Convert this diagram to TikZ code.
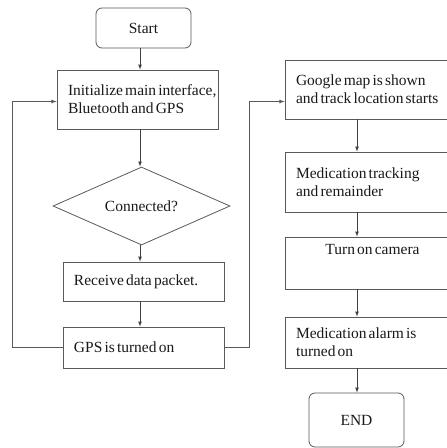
\documentclass[tikz,border=0pt]{standalone}
\usepackage{fontspec}
\setmainfont[WordSpace=0.55]{Liberation Serif}
\usetikzlibrary{positioning,shapes,arrows}

\begin{document}
\begin{tikzpicture}[x=1pt,y=-1pt, >=latex,
    txt/.style={font=\fontsize{15.5}{18}\selectfont, text=black!90},
    block/.style={txt, draw=black!65, line width=0.8pt, text width=139pt, inner xsep=11pt, align=flush left},
    rblock/.style={block, text width=153pt},
    term/.style={txt, draw=black!65, line width=0.8pt, rounded corners=6pt, minimum width=95pt, align=center},
    decision/.style={txt, draw=black!65, line width=0.8pt, diamond, aspect=2.3, inner sep=0pt, minimum width=177pt, minimum height=78pt},
    arrow/.style={->, draw=black!75, line width=0.7pt},
    loop/.style={->, draw=black!65, line width=0.8pt}]
    \useasboundingbox (0,0) rectangle (447,448);
    \clip (0,0) rectangle (447,448);

    % Left column
    \node[term, minimum height=40pt] (start) at (143.5,28) {Start};
    \node[block, minimum height=59pt] (init) at (137.5,99.5) {\mbox{Initialize main interface,}\\Bluetooth and GPS};
    \node[decision] (conn) at (141.5,206) {Connected?};
    \node[block, minimum height=39pt] (recv) at (143.5,281.5) {Receive data packet.};
    \node[block, minimum height=41pt] (gps) at (143.5,347.5) {GPS is turned on};

    % Right column
    \node[rblock, minimum height=59pt] (map) at (372.5,89.5) {Google map is shown\\and track location starts};
    \node[rblock, minimum height=60pt] (track) at (372.5,182) {Medication tracking\\and remainder};
    \node[rblock, minimum height=52pt, label={[txt, label distance=-22pt]north:Turn on camera}] (cam) at (372.5,263) {};
    \node[rblock, minimum height=51pt] (alarm) at (372.5,342.5) {Medication alarm is\\turned on};
    \node[term, minimum height=54pt] (end) at (356.5,420) {END};

    % Arrow columns
    \coordinate (cx) at (140,0);
    \coordinate (rx) at (357,0);
    \coordinate (lx) at (12,0);
    \coordinate (mx) at (249,0);

    % Flow
    \draw[arrow] (start.south -| cx) -- (init.north -| cx);
    \draw[arrow] (init.south -| cx) -- (conn.north -| cx);
    \draw[arrow] (conn.south -| cx) -- (recv.north -| cx);
    \draw[arrow] (recv.south -| cx) -- (gps.north -| cx);
    \draw[arrow] (map.south -| rx) -- (track.north -| rx);
    \draw[arrow] (track.south -| rx) -- (cam.north -| rx);
    \draw[arrow] (cam.south -| rx) -- (alarm.north -| rx);
    \draw[arrow] (alarm.south -| rx) -- (end.north -| rx);

    % Loops
    \draw[loop] (gps.west) -- (gps.west -| lx) |- ([yshift=-2pt]init.west);
    \draw[loop] (gps.east) -- (gps.east -| mx) |- ([yshift=-12pt]map.west);
\end{tikzpicture}
\end{document}
